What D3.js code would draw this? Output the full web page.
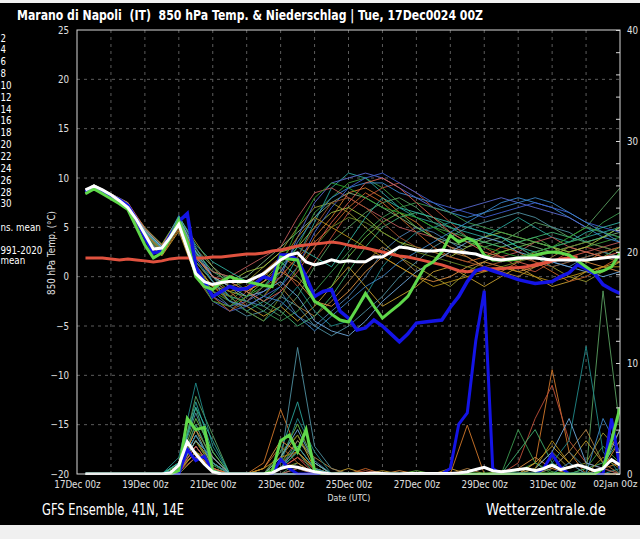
<!DOCTYPE html>
<html><head><meta charset="utf-8">
<script src="https://cdn.jsdelivr.net/npm/d3@7/dist/d3.min.js"></script>
<style>html,body{margin:0;padding:0;background:#f0f0f0;} svg{display:block;}</style>
</head><body>
<svg id="c" width="640" height="539"></svg>
<script>
// ---------------- DATA ----------------
const titleText = "Marano di Napoli  (IT)  850 hPa Temp. & Niederschlag | Tue, 17Dec0024 00Z";
const dateTickHours = [0,48,96,144,192,240,288,336,384];
const dateTickLabels = ["17Dec 00z","19Dec 00z","21Dec 00z","23Dec 00z","25Dec 00z","27Dec 00z","29Dec 00z","31Dec 00z","02Jan 00z"];
const tempTicks = [25,20,15,10,5,0,-5,-10,-15,-20];
const precipTicks = [0,2,4,6,8,10,12,14,16,18,20,22,24,26,28,30,32,34,36,38,40];
// legend as visible in the reference (its left part lies outside the picture)
const legendLabels = ["2","4","6","8","10","12","14","16","18","20","22","24","26","28","30"];
const legendExtra = ["ns. mean","991-2020","mean"];

const memberHours = [6,12,24,36,48,60,72,84,96,108,120,132,144,156,168,180,192,204,216,228,240,252,264,276,288,300,312,324,336,348,360,372,384];
const thickHours = [6,12,18,24,30,36,42,48,54,60,66,72,78,84,90,96,102,108,114,120,126,132,138,144,150,156,162,168,174,180,186,192,198,204,210,216,222,228,234,240,246,252,258,264,270,276,282,288,294,300,306,312,318,324,330,336,342,348,354,360,366,372,378,384];

const memberColors = ["#3f9f3f","#4a7fb0","#d2782a","#9a9a30","#2aa39a","#c0503a","#5aa060","#3a8ad0","#c8a030","#7fb07f","#4f8fa0","#c86428","#6cc04a","#5a6ad0","#b08040","#40b070","#c05a5a","#208a8a","#a0c040","#4060d0","#e09040","#6a8a2a","#30b0a0","#a0522d","#3c9a50","#6fa8dc","#b8901a","#2ca02c","#e06050","#3d85c6"];

// member 850 hPa temperatures (°C) at memberHours
const memberTemp = [
[8.5,9.0,8.0,7.0,4.2,2.5,5.8,1.0,-1.5,-2.5,-1.0,-2.0,0.5,3.0,6.5,8.0,9.5,10.0,9.0,7.5,6.0,5.0,4.5,4.0,3.5,3.0,3.5,4.0,3.0,2.5,3.0,3.5,4.0],
[8.7,9.2,8.3,7.4,4.8,3.0,5.2,2.0,0.0,-1.0,-2.5,-3.0,-1.5,-4.0,-5.0,-3.5,-2.0,0.0,2.5,4.0,5.0,4.5,3.5,2.5,2.0,1.5,2.0,2.5,1.5,1.0,2.0,2.5,2.0],
[8.4,8.9,7.9,7.1,3.8,2.2,4.8,0.5,-2.0,-3.5,-2.0,0.5,2.0,1.0,4.0,6.0,8.5,9.0,8.0,6.5,5.5,4.0,3.0,2.0,1.0,0.5,1.5,2.5,3.0,2.0,1.5,2.5,3.0],
[8.6,9.1,8.2,7.3,5.0,3.2,6.0,3.5,1.0,-1.0,-0.5,1.0,2.5,5.0,7.0,7.5,6.5,5.0,3.5,2.0,1.0,0.0,-1.0,0.5,1.5,2.5,3.0,2.0,1.0,0.0,-0.5,0.5,1.5],
[8.8,9.3,8.4,7.5,4.5,2.8,5.5,1.5,-0.5,-2.0,-3.5,-2.5,-1.0,2.0,5.5,9.0,10.5,10.0,8.5,7.0,6.0,5.5,5.0,4.5,4.0,5.0,6.0,5.0,4.0,3.5,4.0,4.5,5.0],
[8.5,9.0,8.1,7.2,4.0,2.4,5.0,0.0,-2.5,-3.0,-1.5,-0.5,1.0,-1.0,1.5,4.0,6.5,8.0,9.0,9.5,8.5,7.0,5.5,4.0,3.0,2.0,1.0,0.5,1.5,2.5,3.0,2.5,2.0],
[8.6,9.1,8.0,7.0,4.4,2.6,5.6,2.5,0.5,0.0,-1.5,-3.0,-4.0,-2.0,1.0,3.5,5.0,6.5,7.5,8.0,7.0,5.5,4.5,3.5,3.0,3.5,4.5,5.5,5.0,4.0,5.0,7.0,9.0],
[8.7,9.2,8.2,7.3,4.6,2.9,6.2,3.0,0.0,-2.0,-2.5,-1.0,0.5,3.5,6.0,8.0,9.0,9.5,9.5,8.5,8.0,7.5,6.5,6.0,6.5,7.5,8.0,7.5,7.0,6.0,5.0,4.0,3.5],
[8.5,9.0,7.9,6.9,3.9,2.1,4.6,0.0,-1.0,-2.5,-3.0,-4.0,-3.0,-4.5,-3.0,-1.0,1.0,-1.0,-3.0,-2.0,-1.0,0.5,1.0,0.0,-1.0,0.0,1.0,0.0,-1.0,-0.5,0.5,1.0,1.5],
[8.8,9.3,8.3,7.4,4.7,3.1,5.9,2.8,1.0,-0.5,0.0,1.5,3.0,4.5,6.0,7.5,8.5,8.0,7.0,6.0,5.0,4.0,3.5,3.0,3.5,4.0,3.5,3.0,2.5,3.0,3.5,4.0,4.5],
[8.6,9.1,8.1,7.2,4.3,2.7,5.3,1.0,-1.5,-3.0,-4.0,-3.5,-2.0,-3.0,-5.0,-6.0,-5.0,-3.5,-2.0,0.0,1.5,3.0,4.0,5.0,5.5,6.0,6.5,6.0,5.0,4.5,3.5,3.0,2.5],
[8.4,8.9,8.0,7.1,4.1,2.3,5.1,1.5,-0.5,-1.5,-3.0,-2.0,0.0,2.0,3.5,5.0,7.0,8.5,7.5,6.0,4.5,3.0,2.0,1.5,2.0,3.0,2.5,1.5,0.5,-0.5,0.0,1.0,2.0],
[8.7,9.2,8.2,7.3,4.9,3.3,6.0,2.2,0.0,-1.5,-2.0,-0.5,1.5,0.0,-2.0,-1.0,2.0,4.0,5.5,6.5,5.0,4.0,3.0,2.5,2.0,2.5,3.0,3.5,3.0,2.0,1.5,2.0,3.0],
[8.5,9.0,8.0,7.0,4.3,2.5,5.5,0.8,-2.0,-3.0,-2.5,-1.5,0.0,4.0,7.5,9.5,10.0,10.5,10.0,9.0,8.0,7.0,6.5,7.0,7.5,8.0,7.5,7.0,6.5,6.0,5.0,4.5,4.0],
[8.6,9.1,8.1,7.2,4.5,2.8,5.4,1.2,-1.0,-2.0,-1.0,0.5,-1.0,-3.0,-4.0,-2.5,-0.5,1.5,3.0,2.0,0.5,1.5,2.5,2.0,1.0,0.5,0.0,1.0,2.0,3.0,2.5,2.0,1.5],
[8.8,9.3,8.4,7.5,4.6,3.0,5.7,2.6,0.5,-0.5,-1.5,-2.5,-3.5,-5.0,-4.0,-2.0,0.5,3.0,5.0,6.0,6.5,6.0,5.0,4.0,3.5,3.0,3.5,4.0,4.5,4.0,3.5,4.0,5.0],
[8.5,9.0,8.0,7.0,4.0,2.4,5.0,1.8,0.5,0.0,1.0,2.0,3.0,6.0,8.5,9.0,8.0,7.0,6.0,5.0,4.5,4.0,3.0,2.5,2.0,2.0,2.5,3.5,4.0,3.0,2.5,3.0,3.5],
[8.7,9.2,8.3,7.4,4.8,3.1,5.8,2.4,-0.5,-2.5,-3.5,-4.5,-3.0,-1.0,-3.5,-5.0,-4.5,-2.0,1.0,3.0,4.5,5.0,5.5,5.0,4.5,4.0,3.0,2.0,1.0,1.5,2.0,2.5,2.0],
[8.6,9.1,8.1,7.2,4.4,2.6,5.3,1.0,-1.0,-0.5,0.5,1.0,2.5,3.0,5.0,6.5,7.0,6.0,4.5,3.5,3.0,2.5,2.0,3.0,4.0,4.5,4.0,3.5,3.0,2.5,3.0,4.0,5.0],
[8.4,8.9,7.9,7.0,4.1,2.3,5.2,0.5,-2.5,-3.5,-3.0,-2.0,-1.0,1.0,4.5,7.0,9.0,10.0,10.5,9.5,8.5,7.5,7.0,6.5,6.0,6.5,7.0,7.5,7.0,6.5,5.5,5.0,4.5],
[8.7,9.2,8.2,7.3,4.7,3.0,5.6,2.0,0.0,-1.0,-1.5,-0.5,0.5,-0.5,-2.5,-3.0,-1.5,0.5,2.0,1.0,0.0,-0.5,0.0,1.0,1.5,1.0,0.5,1.0,1.5,2.0,1.5,1.0,0.5],
[8.5,9.0,8.0,7.1,4.2,2.5,5.0,1.2,-1.5,-2.0,-3.5,-4.5,-2.0,1.0,3.0,5.0,6.0,5.5,4.5,3.5,2.5,2.0,1.5,1.0,0.5,1.0,1.5,2.0,2.5,3.0,3.5,3.0,2.5],
[8.8,9.3,8.3,7.4,4.6,2.9,6.1,3.2,1.5,0.5,-0.5,-1.0,1.0,3.0,2.0,1.0,3.5,6.0,8.0,7.0,6.5,6.0,5.5,5.0,4.5,4.0,3.0,2.5,3.0,3.5,4.5,5.0,5.5],
[8.6,9.1,8.1,7.2,4.3,2.6,5.4,0.8,-2.0,-3.5,-2.5,-1.0,0.0,2.0,5.0,7.5,8.0,7.0,5.5,4.0,3.0,2.5,2.0,1.5,1.0,1.5,2.0,1.5,1.0,1.5,2.0,2.5,3.0],
[8.5,9.0,8.0,7.0,4.5,2.7,5.5,1.5,-0.5,-2.0,-2.5,-3.5,-4.5,-3.5,-1.5,0.5,2.5,4.5,6.0,7.0,7.5,7.0,6.5,5.5,5.0,4.5,4.0,3.5,3.0,3.5,4.0,5.5,6.5],
[8.7,9.2,8.2,7.3,4.8,3.0,5.9,2.5,0.0,-1.0,-2.0,-1.5,-0.5,-2.0,-4.5,-5.5,-6.0,-4.5,-2.5,-1.0,0.5,1.5,2.5,3.5,4.0,3.5,2.5,2.0,1.5,1.0,0.5,0.0,0.5],
[8.6,9.1,8.1,7.2,4.4,2.8,5.2,1.0,-1.0,-1.5,-1.0,0.0,1.5,4.0,6.0,5.0,4.0,3.0,2.0,1.0,0.0,-1.0,-0.5,0.0,0.5,1.0,0.5,0.0,-0.5,0.0,0.5,1.0,1.0],
[8.5,9.0,8.0,7.1,4.2,2.4,5.1,0.3,-2.5,-3.0,-2.0,-1.0,1.0,5.0,8.0,9.5,9.0,8.0,7.0,6.5,6.0,5.0,4.0,3.5,3.0,2.5,2.0,2.5,3.0,4.0,5.0,4.5,4.0],
[8.8,9.3,8.4,7.5,4.9,3.2,5.8,2.0,0.0,-0.5,-1.5,-2.5,-1.5,0.5,3.0,5.5,7.5,9.5,10.0,9.0,7.5,6.0,4.5,3.5,2.5,2.0,1.5,1.0,1.5,2.0,2.5,2.0,2.5],
[8.6,9.1,8.2,7.3,4.5,2.9,5.6,1.8,-0.5,-2.5,-3.0,-2.0,-2.5,-4.0,-5.5,-4.0,-2.5,-1.0,0.0,1.5,2.5,3.5,4.5,5.5,6.5,7.0,7.5,8.0,7.5,6.5,5.5,4.5,3.5]
];

// member precipitation (mm) at memberHours
const memberPrecip = [
[0,0,0,0,0,0,0.5,3.0,0.8,0,0,0,1.0,2.0,0.5,0,0,0,0,0,0,0,0,0,0,0,0.3,1.0,0.2,0,0.5,2.5,1.0],
[0,0,0,0,0,0,0.3,4.5,1.0,0,0,0,0.5,3.0,1.2,0,0,0,0,0,0,0,0,0,0,0,0,0,0,0,0,0.5,0],
[0,0,0,0,0,0,0.2,2.0,0.3,0,0,1.0,5.8,2.0,0.5,0,0,0,0,0,0,0,0,4.4,0,0,0,1.0,9.4,2.0,0,0.5,1.0],
[0,0,0,0,0,0,0,1.5,0.5,0,0,0,0.5,1.0,0,0,0,0,0,0,0,0,0,0,0,0.3,0,0.5,2.0,0.5,1.0,3.7,2.0],
[0,0,0,0,0,0,1.0,6.5,2.0,0,0,0,2.0,6.5,1.0,0,0,0,0,0,0,0,0,0,0,0,0,0,0,0,0,0,0.5],
[0,0,0,0,0,0,0.3,3.5,1.0,0,0,0,0.5,1.5,0.5,0,0,0.3,0,0,0,0,0,0,0,0,1.0,5.0,8.0,3.0,1.0,0.5,0],
[0,0,0,0,0,0,0.5,7.0,3.5,0,0,0,0,1.0,0,0,0,0,0,0,0,0,0,0,0,0,0,0,0,0,0,16.5,4.0],
[0,0,0,0,0,0,0.2,2.5,0.5,0,0,0,0,0,0,0,0,0,0,0,0,0,0,0,0,0,0,0,0,0,0,0,0],
[0,0,0,0,0,0,0.3,3.0,1.0,0,0,0,1.5,3.5,0.5,0,0.5,0,0.3,0,0,0,0.5,0,0,0,0,1.0,2.5,1.0,3.0,1.0,4.0],
[0,0,0,0,0,0,0.5,4.0,0.5,0,0,0,0,0.5,0,0,0,0,0,0,0,0,0,0,0,0,0,0,0,0,0,0,0],
[0,0,0,0,0,0,1.0,5.5,1.5,0,0,0,1.0,11.4,2.5,0.5,0,0,0,0,0,0,0,0,0,0,0,0,0.5,2.0,0.5,0,0],
[0,0,0,0,0,0,0.2,2.0,0.5,0,0,0.5,2.5,1.0,0,0,0,0.5,0,0,0,0,0,0,0,0,0,0,0,0,0,0,0],
[0,0,0,0,0,0,0.8,5.0,2.0,0,0,0,1.5,4.5,1.0,0,0,0,0,0,0.3,0,0,0,0,0,0,0,0,0,0,0,0],
[0,0,0,0,0,0,0.3,2.5,0.5,0,0,0,0,0,0,0,0,0,0,0,0,0,0,0,0,0,0,0,0,0,0,0,0],
[0,0,0,0,0,0,0.5,3.0,0.5,0,0,0,1.0,3.0,1.5,0.5,0,0,0,0,0,0,0,0.5,0,0,0,0,0.5,2.0,4.0,1.0,0],
[0,0,0,0,0,0,1.0,6.0,1.0,0,0,0,0.5,2.0,0,0,0,0,0,0,0,0,0,0,0,0,2.0,4.0,1.0,0,0.5,1.0,3.0],
[0,0,0,0,0,0,0.2,1.5,0.3,0,0,0,0,0.5,0,0,0,0,0,0,0,0,0,0,0,0,0,0,0,0,0,0,0],
[0,0,0,0,0,0,1.5,8.2,2.5,0,0,0,1.0,5.0,2.0,0,0,0,0,0,0,0,0,0,0,0,0,0,1.0,3.0,11.5,2.0,0],
[0,0,0,0,0,0,0.3,2.0,1.0,0,0,0,0.5,2.5,0.5,0,0,0,0,0,0,0,0,0,0,0,0,0,0,0,0,0,0],
[0,0,0,0,0,0,0.5,3.5,1.0,0,0,0,0,0,0,0,0,0,0,0,0,0,0,0,0,0,0,0,0,0,0,0,0],
[0,0,0,0,0,0,0.5,4.0,1.5,0,0,0.5,3.0,2.0,0.5,0,0,0,0,0.3,0,0,0,0,0,0,0.5,1.5,0.5,0,0,0.5,3.0],
[0,0,0,0,0,0,0.3,3.0,0.5,0,0,0,2.0,3.5,1.0,0,0,0,0,0,0,0,0,0,0,0,0,0,0,0,0,0,0],
[0,0,0,0,0,0,1.0,6.0,3.0,0,0,0,0.5,2.0,0.5,0,0,0,0,0,0,0,0,0,0,0,0,0,0,0,0,0,0],
[0,0,0,0,0,0,0.2,2.5,0.5,0,0,0,1.0,2.0,0.3,0,0,0,0,0,0,0,0,0,0,0,0,0,0,0,0,0,0],
[0,0,0,0,0,0,0.5,4.5,1.0,0,0,0,0,0,0,0,0,0,0,0,0,0,0,0,0,0,4.0,1.0,0,0,0,0,0],
[0,0,0,0,0,0,0.5,3.0,1.5,0,0,0,1.5,4.0,1.0,0,0,0,0,0,0,0,0,0,0,0,0,0.5,2.0,5.0,1.0,0.5,4.0],
[0,0,0,0,0,0,0.3,2.0,0.5,0,0,0.5,1.5,2.0,0.5,0,0,0,0,0,0,0,0,0,0,0,0,0.5,3.0,1.0,0,1.5,0.5],
[0,0,0,0,0,0,0.5,3.5,1.0,0,0,0,1.0,2.5,0.5,0,0,0,0,0,0,0,0,0,0,0,0,0,0,0,0,0,0],
[0,0,0,0,0,0,0.3,2.5,0.5,0,0,0,0.5,1.5,0,0,0,0,0,0,0,0,0,0,0,0,0,0,0,0,0,0,0],
[0,0,0,0,0,0,0.5,3.5,1.0,0,0,0,0.5,2.5,0.5,0,0,0,0,0,0,0,0,0,0,0,0,0,0,1.0,0,5.0,2.0]
];

// thick lines at thickHours
const blueTemp = [8.6,9.1,8.7,8.2, 7.8,7.2,5.8,4.0, 2.4,2.6,4.2,5.6, 6.4,1.0,-0.5,-2.0, -1.5,-1.0,-1.3,-1.2, -0.7,0.0,-0.3,2.2, 2.2,1.7,0.0,-2.0, -1.5,-1.3,-3.5,-4.2, -5.4,-5.2,-4.4,-5.0, -5.8,-6.6,-5.8,-4.7, -4.6,-4.5,-4.4,-3.1, -2.0,-0.5,0.6,0.9, 0.6,0.3,0.0,-0.3, -0.5,-0.7,-0.6,-0.5, 0.0,0.4,1.2,0.8, 0.3,-0.8,-1.3,-1.7];
const greenTemp = [8.4,8.9,8.4,7.9, 7.4,6.8,5.0,3.2, 1.9,2.4,4.0,5.7, 3.5,0.0,-1.0,-1.3, -0.5,0.0,-0.3,-0.5, -0.7,-0.9,-1.0,2.0, 1.8,1.7,-1.0,-2.5, -3.0,-3.8,-4.4,-4.6, -3.2,-1.7,-3.0,-4.2, -3.5,-2.8,-2.0,-0.5, 1.0,1.5,2.5,4.2, 3.5,3.9,3.5,2.2, 1.7,1.7,1.7,1.8, 2.0,2.2,2.4,2.5, 2.4,2.2,1.6,1.0, 0.4,0.6,1.0,2.4];
const meanTemp = [8.8,9.2,8.8,8.3, 7.7,7.0,5.8,4.3, 2.8,2.9,4.0,5.3, 2.8,0.3,-0.5,-0.8, -0.6,-0.5,-0.5,-0.5, -0.1,0.3,1.0,1.7, 2.2,2.4,1.5,1.2, 1.4,1.7,1.5,1.6, 1.5,1.5,2.0,2.0, 2.5,3.0,2.9,2.7, 2.6,2.6,2.7,2.6, 2.5,2.4,2.3,2.0, 1.8,1.7,1.8,1.9, 1.9,1.9,1.8,1.7, 1.7,1.7,1.7,1.7, 1.8,1.9,2.0,2.0];
const climTemp = [1.9,1.9,1.9,1.8, 1.7,1.8,1.7,1.6, 1.5,1.6,1.8,1.9, 1.9,1.9,1.9,2.0, 2.0,2.1,2.2,2.3, 2.3,2.4,2.6,2.7, 2.9,3.1,3.2,3.3, 3.4,3.5,3.4,3.2, 3.0,2.9,2.7,2.5, 2.3,2.1,2.0,1.8, 1.6,1.4,1.2,0.9, 0.6,0.5,0.6,0.7, 0.8,0.8,0.9,0.9, 1.0,1.2,1.4,1.6, 1.8,1.9,2.0];
const bluePrecip = [0,0,0,0, 0,0,0,0, 0,0,0,0, 2.2,1.2,1.6,0.3, 0,0,0,0, 0,0,0,1.3, 0.5,0,0,0, 0,0,0,0, 0,0,0,0, 0,0,0,0, 0,0,0,0.5, 4.5,5.5,12,16.5, 0.5,0,0,0, 0,0,0.5,1.8, 0.6,0,0,0, 0,0,5,0.5];
const greenPrecip = [0,0,0,0, 0,0,0,0, 0,0,0,0.3, 5.0,4.0,4.2,0.3, 0,0,0,0, 0,0,0.2,3.0, 3.5,2.0,4.0,0.3, 0,0,0,0, 0,0,0,0, 0,0,0,0, 0,0,0,0, 0,0,0,0, 0,0,0,0, 0,0,0,0, 0,0,0,0, 0,0.5,3.0,6.0];
const meanPrecip = [0,0,0,0, 0,0,0,0, 0,0,0.1,0.8, 2.9,1.8,0.9,0.2, 0,0,0,0, 0,0,0.1,0.5, 0.7,0.6,0.4,0.2, 0.1,0,0,0, 0,0.05,0.1,0.05, 0,0,0.05,0.05, 0.05,0.05,0.05,0.05, 0.1,0.2,0.4,0.6, 0.3,0.2,0.3,0.4, 0.5,0.3,0.5,0.8, 0.4,0.6,0.8,0.6, 0.3,0.5,1.3,0.8];

// ---------------- DRAW ----------------
const svg = d3.select("#c");
const FONT = "DejaVu Sans, sans-serif";
const L = 77, R = 620, T = 30, B = 474;
const x = d3.scaleLinear().domain([0,384]).range([L,R]);
const yT = d3.scaleLinear().domain([-20,25]).range([B,T]);
const yP = d3.scaleLinear().domain([0,40]).range([B,T]);

function squish(sel, f){
  sel.each(function(){
    const w = this.getComputedTextLength();
    d3.select(this).attr("textLength", (w*f).toFixed(1)).attr("lengthAdjust","spacingAndGlyphs");
  });
}
function fitTo(sel, w){ sel.attr("textLength", w).attr("lengthAdjust","spacingAndGlyphs"); }

svg.append("rect").attr("x",0).attr("y",3).attr("width",640).attr("height",522).attr("fill","#000");

// title
svg.append("text").attr("x",17).attr("y",20).attr("fill","#fff")
  .style("font-family",FONT).style("font-weight","bold").style("font-size","14px")
  .style("white-space","pre").text(titleText).call(fitTo,466);

// legend (only the part visible in the reference)
const lg = svg.append("g").style("font-family",FONT).style("font-size","10px").attr("fill","#fff");
legendLabels.forEach((s,i)=>{
  lg.append("text").attr("x",0.5).attr("y",41.5+i*11.85).text(s).call(squish,0.87);
});
lg.append("text").attr("x",0.5).attr("y",230.5).text(legendExtra[0]).call(squish,0.87);
lg.append("text").attr("x",0.5).attr("y",254).text(legendExtra[1]).call(squish,0.87);
lg.append("text").attr("x",0.5).attr("y",264).text(legendExtra[2]).call(squish,0.87);

// grid
const grid = svg.append("g").attr("stroke","#5c5c5c").attr("stroke-width",1).attr("stroke-dasharray","3,4");
const dayLines = [24,48,72,96,120,144,168,192,216,240,264,288,312,336,360];
dayLines.forEach(h=>grid.append("line").attr("x1",x(h)).attr("x2",x(h)).attr("y1",T).attr("y2",B));
[20,15,10,5,0,-5,-10,-15].forEach(v=>grid.append("line").attr("x1",L).attr("x2",R).attr("y1",yT(v)).attr("y2",yT(v)));

// clip
svg.append("defs").append("clipPath").attr("id","plotclip").append("rect")
  .attr("x",L).attr("y",T).attr("width",R-L).attr("height",B-T+1);
const plot = svg.append("g").attr("clip-path","url(#plotclip)");

const lineM = ys => d3.line().x((d,i)=>x(memberHours[i])).y(d=>ys(d));
const lineK = ys => d3.line().x((d,i)=>x(thickHours[i])).y(d=>ys(d));

// member precip
memberPrecip.forEach((arr,k)=>{
  plot.append("path").attr("d",lineM(yP)(arr)).attr("fill","none")
    .attr("stroke",memberColors[k]).attr("stroke-width",1).attr("opacity",0.9);
});
// member temps
memberTemp.forEach((arr,k)=>{
  plot.append("path").attr("d",lineM(yT)(arr)).attr("fill","none")
    .attr("stroke",memberColors[k]).attr("stroke-width",1).attr("opacity",0.9);
});
// thick precip
plot.append("path").attr("d",lineK(yP)(bluePrecip)).attr("fill","none").attr("stroke","#1414e6").attr("stroke-width",3);
plot.append("path").attr("d",lineK(yP)(greenPrecip)).attr("fill","none").attr("stroke","#5fd84a").attr("stroke-width",3);
plot.append("path").attr("d",lineK(yP)(meanPrecip)).attr("fill","none").attr("stroke","#ffffff").attr("stroke-width",3);
// thick temps
plot.append("path").attr("d",lineK(yT)(climTemp)).attr("fill","none").attr("stroke","#e0523f").attr("stroke-width",3);
plot.append("path").attr("d",lineK(yT)(blueTemp)).attr("fill","none").attr("stroke","#1414e6").attr("stroke-width",3.5);
plot.append("path").attr("d",lineK(yT)(greenTemp)).attr("fill","none").attr("stroke","#5fd84a").attr("stroke-width",3);
plot.append("path").attr("d",lineK(yT)(meanTemp)).attr("fill","none").attr("stroke","#ffffff").attr("stroke-width",3);

// frame
svg.append("rect").attr("x",L).attr("y",T).attr("width",R-L).attr("height",B-T)
  .attr("fill","none").attr("stroke","#d8d8d8").attr("stroke-width",1);

// left axis
const ax = svg.append("g").attr("transform",`translate(${L},0)`)
  .call(d3.axisLeft(yT).tickValues(tempTicks).tickSize(0).tickPadding(8));
ax.select(".domain").remove();
ax.selectAll("text").attr("fill","#e0e0e0").style("font-family",FONT).style("font-size","10px").call(squish,0.87);

// right axis
const ar = svg.append("g").attr("transform",`translate(${R},0)`)
  .call(d3.axisRight(yP).tickValues(precipTicks).tickSize(-4).tickPadding(7)
     .tickFormat(v => v % 10 === 0 ? String(v) : ""));
ar.select(".domain").remove();
ar.selectAll("line").attr("stroke","#d8d8d8");
ar.selectAll("text").attr("fill","#e0e0e0").style("font-family",FONT).style("font-size","10px").call(squish,0.87);

// bottom axis
const ab = svg.append("g").attr("transform",`translate(0,${B})`)
  .call(d3.axisBottom(x).tickValues(dateTickHours).tickSize(0).tickPadding(7)
     .tickFormat((d,i)=>dateTickLabels[i]));
ab.select(".domain").remove();
const lastIdx = dateTickLabels.length-1;
ab.selectAll("text").attr("fill","#e0e0e0").style("font-family",FONT).style("font-size","10px");
ab.selectAll("text").filter((d,i)=>i!==lastIdx).call(squish,0.87);
// last label: a bit smaller, right-aligned inside the picture (reference shows it at the edge)
ab.selectAll("text").filter((d,i)=>i===lastIdx)
  .style("font-size","9px").attr("text-anchor","end").attr("x", 637 - R);

// axis titles
svg.append("text").attr("x",349).attr("y",501).attr("text-anchor","middle").attr("fill","#e0e0e0")
  .style("font-family",FONT).style("font-size","9px").text("Date (UTC)").call(squish,0.87);
svg.append("text").attr("transform","translate(55,253) rotate(-90)").attr("text-anchor","middle").attr("fill","#e0e0e0")
  .style("font-family",FONT).style("font-size","10px").text("850 hPa Temp. (°C)").call(squish,0.87);

// footer
svg.append("text").attr("x",42).attr("y",515).attr("fill","#fff").style("font-family",FONT).style("font-size","15px")
  .text("GFS Ensemble, 41N, 14E").call(fitTo,142);
svg.append("text").attr("x",486).attr("y",515).attr("fill","#fff").style("font-family",FONT).style("font-size","15px")
  .text("Wetterzentrale.de").call(fitTo,120);
</script>
</body></html>
